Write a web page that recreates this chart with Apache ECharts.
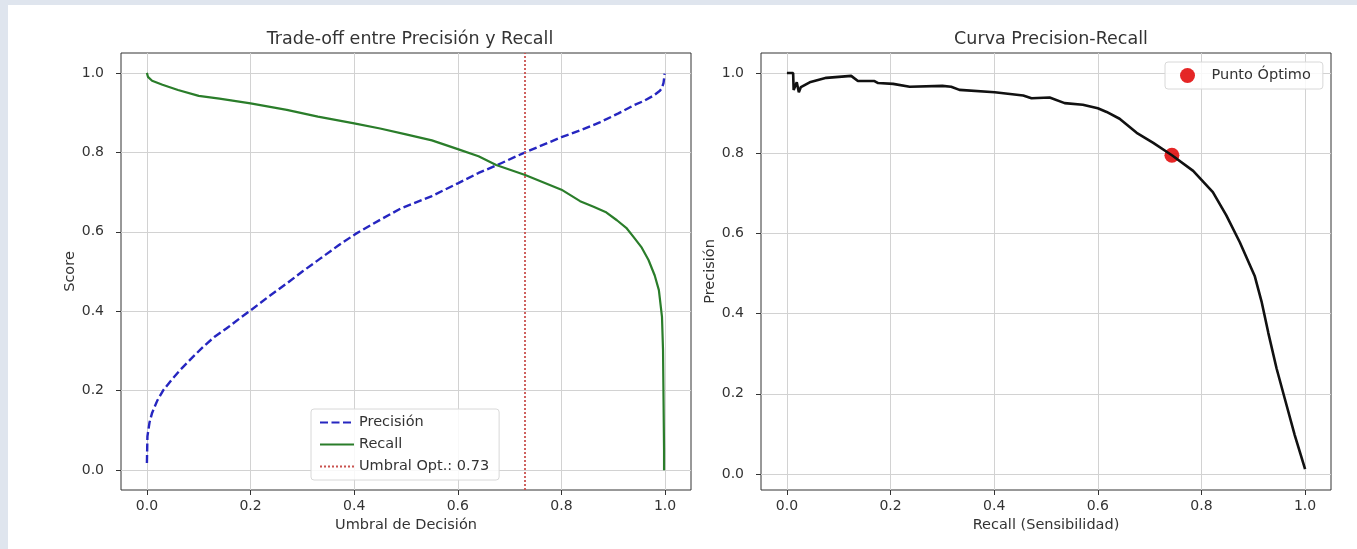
<!DOCTYPE html>
<html>
<head>
<meta charset="utf-8">
<script src="https://cdn.jsdelivr.net/npm/echarts@6/dist/echarts.min.js"></script>
<style>
	html, body { margin: 0; padding: 0; background: #dfe5ee; }
	#sheet { position: absolute; left: 8px; top: 5px; right: 0; bottom: 0; background: #fff; }
	#main { position: absolute; left: 0; top: 0; width: 1357px; height: 549px; }
</style>
</head>
<body>
<div id="sheet"></div>
<div id="main"></div>
<script>
	// umbral -> precision
	var precThr = [0, 0.001, 0.005, 0.01, 0.02, 0.032, 0.048, 0.064, 0.085, 0.109, 0.13, 0.154, 0.18, 0.201, 0.235, 0.27, 0.3, 0.335, 0.37, 0.402, 0.45, 0.489, 0.55, 0.6, 0.64, 0.676, 0.73, 0.8, 0.84, 0.875, 0.91, 0.939, 0.96, 0.978, 0.99, 0.994, 0.997, 0.998, 0.999];
	var precVals = [0.018, 0.085, 0.12, 0.144, 0.175, 0.202, 0.228, 0.252, 0.28, 0.311, 0.335, 0.357, 0.383, 0.403, 0.437, 0.47, 0.5, 0.533, 0.566, 0.594, 0.63, 0.658, 0.69, 0.722, 0.748, 0.768, 0.8, 0.838, 0.857, 0.876, 0.898, 0.918, 0.93, 0.943, 0.955, 0.962, 0.975, 0.985, 0.998];

	// umbral -> recall
	var recThr = [0, 0.002, 0.01, 0.03, 0.06, 0.1, 0.14, 0.2, 0.27, 0.33, 0.4, 0.45, 0.5, 0.55, 0.6, 0.64, 0.674, 0.73, 0.8, 0.836, 0.862, 0.885, 0.907, 0.925, 0.939, 0.955, 0.968, 0.98, 0.988, 0.994, 0.996, 0.997, 0.998, 0.998];
	var recVals = [1.0, 0.99, 0.98, 0.97, 0.957, 0.942, 0.935, 0.923, 0.907, 0.89, 0.873, 0.86, 0.845, 0.83, 0.808, 0.79, 0.768, 0.743, 0.706, 0.677, 0.663, 0.65, 0.629, 0.61, 0.587, 0.56, 0.529, 0.49, 0.453, 0.386, 0.303, 0.177, 0.05, 0.0];

	// curva precision-recall
	var prRecall = [0, 0.012, 0.013, 0.019, 0.023, 0.027, 0.044, 0.076, 0.124, 0.137, 0.169, 0.176, 0.205, 0.237, 0.3, 0.317, 0.333, 0.401, 0.456, 0.472, 0.507, 0.536, 0.571, 0.6, 0.617, 0.642, 0.675, 0.707, 0.743, 0.784, 0.822, 0.848, 0.874, 0.903, 0.916, 0.929, 0.945, 0.961, 0.98, 1.0];
	var prPrecision = [1.0, 1.0, 0.958, 0.977, 0.952, 0.965, 0.977, 0.988, 0.993, 0.98, 0.98, 0.975, 0.973, 0.966, 0.968, 0.966, 0.958, 0.952, 0.944, 0.937, 0.939, 0.925, 0.921, 0.912, 0.903, 0.886, 0.851, 0.826, 0.795, 0.756, 0.703, 0.645, 0.578, 0.493, 0.43, 0.352, 0.263, 0.187, 0.097, 0.012];

	var optThreshold = 0.73;
	var optPoint = [0.743, 0.795];
	var tickValues = [0, 0.2, 0.4, 0.6, 0.8, 1.0];

	function pairs(xs, ys) {
		var out = [];
		for(var i = 0; i < xs.length; i++) {
			out.push([xs[i], ys[i]]);
		}
		return out;
	}

	var font = 'DejaVu Sans';
	var txt = '#333';

	function axisOpt(grid, dir, name, min, max, gap) {
		return {
			type: 'value',
			gridIndex: grid,
			min: min,
			max: max,
			name: name,
			nameLocation: 'middle',
			nameGap: gap,
			nameTextStyle: { color: txt, fontSize: 14.5, fontFamily: font },
			axisLine: { show: false, onZero: false },
			axisTick: { show: true, length: 5, lineStyle: { color: '#333' }, customValues: tickValues },
			axisLabel: {
				show: true,
				margin: dir == 'x' ? 9 : 17,
				color: txt,
				fontSize: 14,
				fontFamily: font,
				customValues: tickValues,
				formatter: function(v) { return v.toFixed(1); }
			},
			splitLine: { show: true, lineStyle: { color: '#d2d2d2', width: 1 } }
		};
	}

	var chart = echarts.init(document.getElementById('main'), null, { renderer: 'canvas' });

	var option = {
		backgroundColor: 'transparent',
		animation: false,
		title: [{
			text: 'Trade-off entre Precisión y Recall',
			left: 405,
			top: 25,
			textAlign: 'center',
			textStyle: { color: txt, fontSize: 17.5, fontWeight: 'normal', fontFamily: font }
		}, {
			text: 'Curva Precision-Recall',
			left: 1046,
			top: 25,
			textAlign: 'center',
			textStyle: { color: txt, fontSize: 17.5, fontWeight: 'normal', fontFamily: font }
		}],
		grid: [{
			left: 121, top: 53, width: 570, height: 437,
			show: true, borderColor: '#333', borderWidth: 1, backgroundColor: 'transparent'
		}, {
			left: 761, top: 53, width: 570, height: 437,
			show: true, borderColor: '#333', borderWidth: 1, backgroundColor: 'transparent'
		}],
		xAxis: [
			axisOpt(0, 'x', 'Umbral de Decisión', -0.05, 1.05, 28),
			axisOpt(1, 'x', 'Recall (Sensibilidad)', -0.05, 1.05, 28)
		],
		yAxis: [
			axisOpt(0, 'y', 'Score', -0.05, 1.05, 41),
			axisOpt(1, 'y', 'Precisión', -0.04, 1.05, 40)
		],
		legend: [{
			orient: 'vertical',
			left: 311,
			top: 409,
			data: ['Precisión', 'Recall', 'Umbral Opt.: ' + optThreshold.toFixed(2)],
			itemWidth: 34,
			itemHeight: 12,
			itemGap: 7,
			padding: [6, 10, 6, 8],
			itemStyle: { opacity: 0 },
			backgroundColor: 'rgba(255,255,255,0.85)',
			borderColor: '#d8d8d8',
			borderWidth: 1,
			borderRadius: 3,
			textStyle: { color: txt, fontSize: 14.5, fontFamily: font }
		}, {
			orient: 'vertical',
			left: 1165,
			top: 62,
			data: ['Punto Óptimo'],
			itemWidth: 38,
			itemHeight: 15,
			padding: [6, 12, 6, 15],
			backgroundColor: 'rgba(255,255,255,0.85)',
			borderColor: '#d8d8d8',
			borderWidth: 1,
			borderRadius: 3,
			textStyle: { color: txt, fontSize: 14.5, fontFamily: font }
		}],
		series: [{
			name: 'Precisión',
			type: 'line',
			xAxisIndex: 0,
			yAxisIndex: 0,
			data: pairs(precThr, precVals),
			symbol: 'none',
			itemStyle: { color: '#2626c0' },
			lineStyle: { color: '#2626c0', width: 2.4, type: [8, 3.5] }
		}, {
			name: 'Recall',
			type: 'line',
			xAxisIndex: 0,
			yAxisIndex: 0,
			data: pairs(recThr, recVals),
			symbol: 'none',
			itemStyle: { color: '#2a7d2a' },
			lineStyle: { color: '#2a7d2a', width: 2.2 }
		}, {
			name: 'Umbral Opt.: ' + optThreshold.toFixed(2),
			type: 'line',
			xAxisIndex: 0,
			yAxisIndex: 0,
			data: [],
			symbol: 'none',
			itemStyle: { color: '#c9524f' },
			lineStyle: { color: '#c9524f', width: 1.8, type: [2, 2] },
			markLine: {
				silent: true,
				symbol: 'none',
				label: { show: false },
				lineStyle: { color: '#c9524f', width: 1.8, type: [2, 2] },
				data: [{ xAxis: optThreshold }]
			}
		}, {
			name: 'Curva PR',
			type: 'line',
			xAxisIndex: 1,
			yAxisIndex: 1,
			data: pairs(prRecall, prPrecision),
			symbol: 'none',
			lineStyle: { color: '#111', width: 2.6 }
		}, {
			name: 'Punto Óptimo',
			type: 'scatter',
			xAxisIndex: 1,
			yAxisIndex: 1,
			data: [optPoint],
			symbol: 'circle',
			symbolSize: 15,
			itemStyle: { color: '#e00000', opacity: 0.85 }
		}]
	};

	chart.setOption(option);
</script>
</body>
</html>
